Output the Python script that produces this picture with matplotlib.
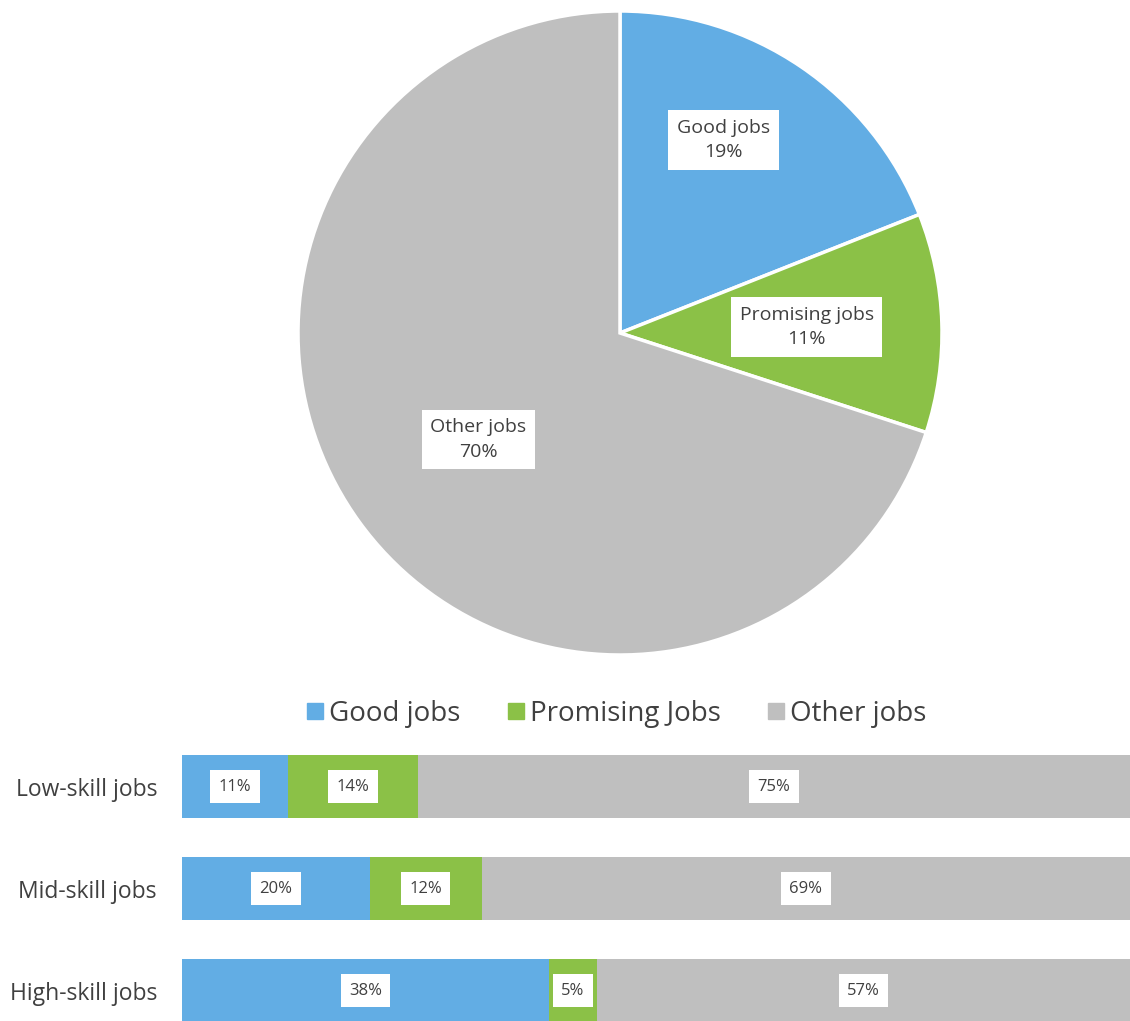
import numpy as np
import matplotlib.pyplot as plt

plt.rcParams['font.family'] = ['Open Sans', 'DejaVu Sans']

# pie data
pie_labels = ["Good jobs", "Promising jobs", "Other jobs"]
pie_values = [19, 11, 70]

# stacked bars (segment shares, labels as printed)
skill_groups = ["Low-skill jobs", "Mid-skill jobs", "High-skill jobs"]
good = [11.2, 19.8, 38.7]
promising = [13.7, 11.8, 5.1]
other = [75.1, 68.4, 56.2]
good_lbl = ["11%", "20%", "38%"]
promising_lbl = ["14%", "12%", "5%"]
other_lbl = ["75%", "69%", "57%"]
legend_names = ["Good jobs", "Promising Jobs", "Other jobs"]

colors = ["#62ade4", "#8bc147", "#bfbfbf"]
txt = "#404040"

W, H = 1130, 1021
fig = plt.figure(figsize=(W / 100, H / 100), dpi=100)

# --- pie ---
cx, cy, r = 620, 333, 322
half = 330
ax = fig.add_axes([(cx - half) / W, 1 - (cy + half) / H, 2 * half / W, 2 * half / H])
wedges, _ = ax.pie(pie_values, colors=colors, startangle=90, counterclock=False,
                   wedgeprops=dict(edgecolor="white", linewidth=2.5))
lim = half / r
ax.set_xlim(-lim, lim)
ax.set_ylim(-lim, lim)
ax.set_aspect("equal")
ax.axis("off")

label_dist = [0.68, 0.58, 0.55]
angle_shift = [6, 0, 1]
for w, name, v, d, s in zip(wedges, pie_labels, pie_values, label_dist, angle_shift):
    ang = np.deg2rad((w.theta1 + w.theta2) / 2 + s)
    ax.text(d * np.cos(ang), d * np.sin(ang), f"{name}\n{v}%", ha="center", va="center",
            fontsize=14, color=txt, linespacing=1.45,
            bbox=dict(boxstyle="square,pad=0.45", fc="white", ec="none"))

# --- legend ---
handles = [plt.Line2D([], [], marker="s", ls="", color=c, markersize=12) for c in colors]
fig.legend(handles, legend_names, loc="center", bbox_to_anchor=(611 / W, 1 - 714 / H),
           ncol=3, frameon=False, fontsize=20, handletextpad=-0.2, columnspacing=1.3,
           handlelength=1.4, labelcolor=txt)

# --- bars ---
bx0 = 182
bax = fig.add_axes([bx0 / W, 0, (W - bx0) / W, (H - 735) / H])
ypos = np.arange(len(skill_groups))
left = np.zeros(len(skill_groups))
for vals, lbls, c in zip([good, promising, other], [good_lbl, promising_lbl, other_lbl], colors):
    bars = bax.barh(ypos, vals, left=left, height=0.62, color=c, edgecolor="none")
    for b, t in zip(bars, lbls):
        bax.text(b.get_x() + b.get_width() / 2, b.get_y() + b.get_height() / 2, t,
                 ha="center", va="center", fontsize=12, color=txt,
                 bbox=dict(boxstyle="square,pad=0.5", fc="white", ec="none"))
    left += np.array(vals)

bax.set_xlim(0, 100)
bax.set_ylim(2 + 30.5 / 102, -51.5 / 102)
bax.set_yticks(ypos)
bax.set_yticklabels(skill_groups, fontsize=16.5, color=txt)
bax.tick_params(axis="y", length=0, pad=18)
bax.set_xticks([])
for sp in bax.spines.values():
    sp.set_visible(False)

fig.savefig("out.png", dpi=100)
